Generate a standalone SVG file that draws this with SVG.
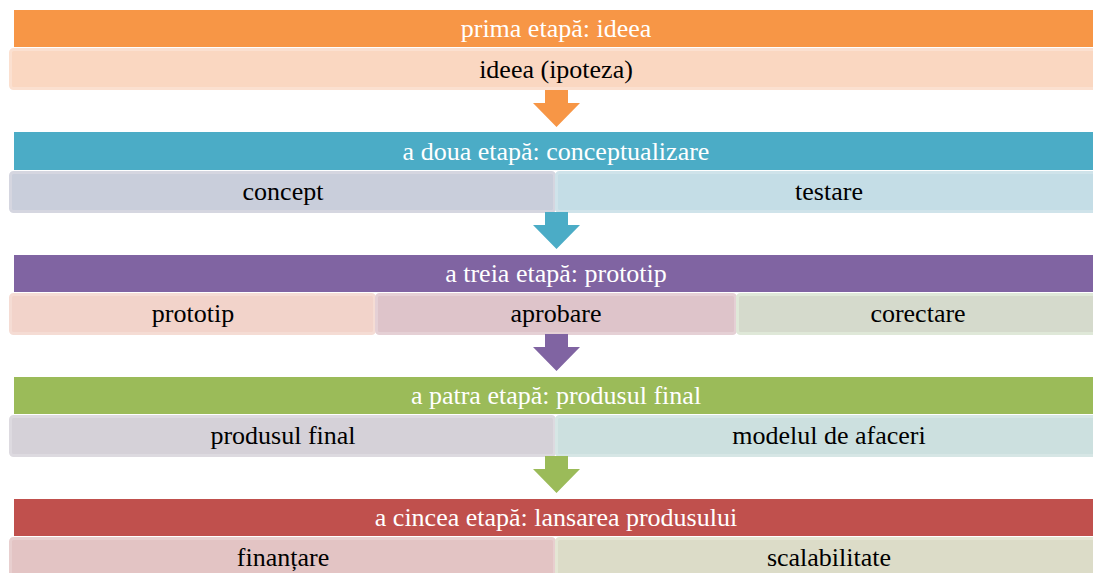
<svg xmlns="http://www.w3.org/2000/svg" width="1093" height="573" viewBox="0 0 1093 573" font-family="Liberation Serif, Times New Roman, serif">
<style>
text{font-size:26px;text-anchor:middle}
.h{fill:#fff}
.s{fill:#000}
.sub{stroke-width:3}
</style>
<rect width="1093" height="573" fill="#fff"/>
<g id="stage1">
<rect x="14" y="10" width="1085" height="37" fill="#F79646"/>
<text class="h" x="556" y="37" font-family="Liberation Serif, serif">prima etapă: ideea</text>
<rect class="sub" x="10.5" y="49.5" width="1090" height="39" rx="3" fill="#FAD7C1" stroke="#FBE0D0"/>
<text class="s" x="556" y="78" font-family="Liberation Serif, serif">ideea (ipoteza)</text>
</g>
<g id="stage2">
<rect x="14" y="132" width="1085" height="38" fill="#4BACC6"/>
<text class="h" x="556" y="160" font-family="Liberation Serif, serif">a doua etapă: conceptualizare</text>
<g id="concept"><rect class="sub" x="10.5" y="172.5" width="544" height="39" rx="3" fill="#C9CEDB" stroke="#D5D6E0"/>
<text class="s" x="283" y="200" font-family="Liberation Serif, serif">concept</text></g>
<g id="testare"><rect class="sub" x="556.5" y="172.5" width="544" height="39" rx="3" fill="#C4DDE6" stroke="#CFE3EA"/>
<text class="s" x="829" y="200" font-family="Liberation Serif, serif">testare</text></g>
</g>
<g id="stage3">
<rect x="14" y="255" width="1085" height="37" fill="#8064A2"/>
<text class="h" x="556" y="282" font-family="Liberation Serif, serif">a treia etapă: prototip</text>
<g id="prototip"><rect class="sub" x="10.5" y="294.5" width="364" height="39" rx="3" fill="#F2D3CA" stroke="#F5DCD4"/>
<text class="s" x="193" y="322" font-family="Liberation Serif, serif">prototip</text></g>
<g id="aprobare"><rect class="sub" x="376.5" y="294.5" width="359" height="39" rx="3" fill="#DEC4CA" stroke="#E5D0D5"/>
<text class="s" x="556" y="322" font-family="Liberation Serif, serif">aprobare</text></g>
<g id="corectare"><rect class="sub" x="737.5" y="294.5" width="363" height="39" rx="3" fill="#D5DACC" stroke="#DFE8D8"/>
<text class="s" x="918" y="322" font-family="Liberation Serif, serif">corectare</text></g>
</g>
<g id="stage4">
<rect x="14" y="377" width="1085" height="37" fill="#9BBB59"/>
<text class="h" x="556" y="404" font-family="Liberation Serif, serif">a patra etapă: produsul final</text>
<g id="produsul"><rect class="sub" x="10.5" y="416.5" width="544" height="39" rx="3" fill="#D5D1D8" stroke="#DDDAE0"/>
<text class="s" x="283" y="444" font-family="Liberation Serif, serif">produsul final</text></g>
<g id="modelul"><rect class="sub" x="556.5" y="416.5" width="544" height="39" rx="3" fill="#CCE0DF" stroke="#D6E6E5"/>
<text class="s" x="829" y="444" font-family="Liberation Serif, serif">modelul de afaceri</text></g>
</g>
<g id="stage5">
<rect x="14" y="499" width="1085" height="37" fill="#C0504D"/>
<text class="h" x="556" y="526" font-family="Liberation Serif, serif">a cincea etapă: lansarea produsului</text>
<g id="finantare"><rect class="sub" x="10.5" y="538.5" width="544" height="40" rx="3" fill="#E3C4C4" stroke="#E8CFCF"/>
<text class="s" x="283" y="566" font-family="Liberation Serif, serif">finanțare</text></g>
<g id="scalabilitate"><rect class="sub" x="556.5" y="538.5" width="544" height="40" rx="3" fill="#DCDCC8" stroke="#E4E6D4"/>
<text class="s" x="829" y="566" font-family="Liberation Serif, serif">scalabilitate</text></g>
</g>
<g id="connectors">
<polygon points="545,90 568,90 568,103 580,103 556.5,127 533,103 545,103" fill="#F79646"/>
<polygon points="545,212 568,212 568,225 580,225 556.5,249 533,225 545,225" fill="#4BACC6"/>
<polygon points="545,334 568,334 568,347 580,347 556.5,371 533,347 545,347" fill="#8064A2"/>
<polygon points="545,456 568,456 568,469 580,469 556.5,493 533,469 545,469" fill="#9BBB59"/>
</g>
</svg>
